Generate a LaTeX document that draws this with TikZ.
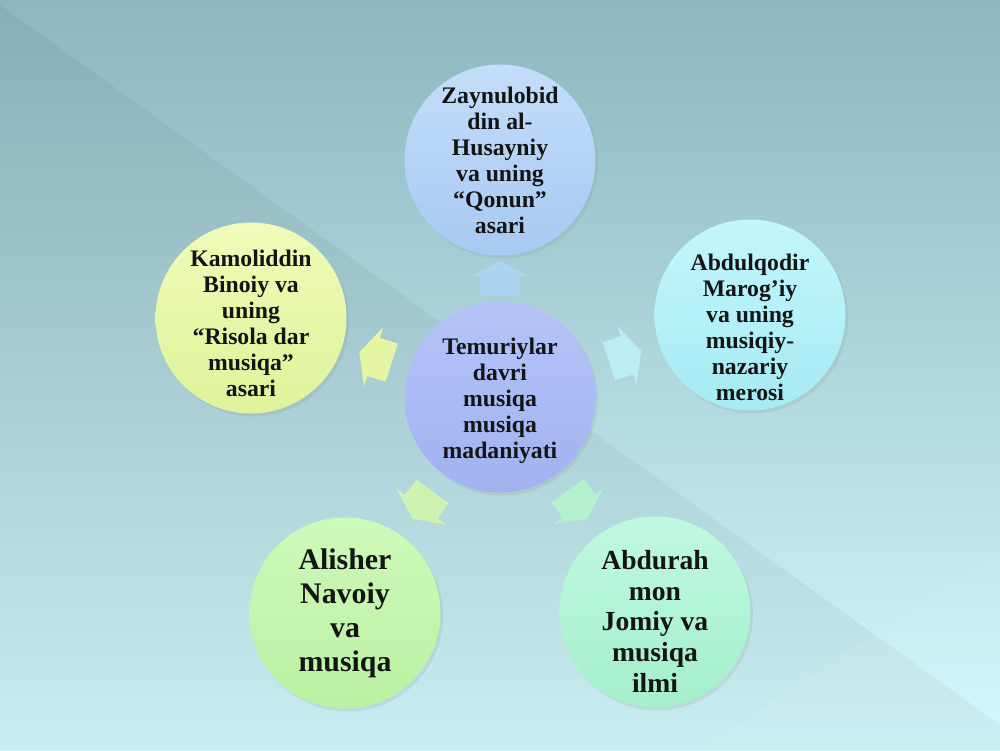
\documentclass[tikz,border=0pt]{standalone}
\usepackage{fontspec}
\setmainfont{Liberation Serif}
\usetikzlibrary{positioning,shadows,calc}

\definecolor{bgtop}{RGB}{141,182,191}
\definecolor{bgmid}{RGB}{166,218,229}
\definecolor{bgbot}{RGB}{212,248,252}

\begin{document}
\begin{tikzpicture}[auto ,node distance =4cm and 5cm ,on grid ,
    topic/.style ={ circle , minimum size =3.82cm , inner sep=-0.3cm ,
    align=center , text=black!92 ,
    font=\bfseries\fontsize{13.5}{14.8}\selectfont ,
    drop shadow={shadow xshift=0.05cm, shadow yshift=-0.06cm, opacity=0.14}},
    outarrow/.pic={
      \fill[pic actions] (-0.34,-0.4) -- (0.04,-0.4) -- (0.04,-0.62)
        -- (0.34,0) -- (0.04,0.62) -- (0.04,0.4) -- (-0.34,0.4) -- cycle;}
    ]

    \useasboundingbox (0,0) rectangle (20,15);
    % background
    \shade[top color=bgtop, middle color=bgmid, bottom color=bgbot] (0,0) rectangle (20,15);
    \fill[black, opacity=0.045] (0,14.9) -- (20,0.5) -- (20,0) -- (0,0) -- cycle;
    \fill[white, opacity=0.07] (14,0) -- (20,4) -- (20,0) -- cycle;

    \node[topic, text height=72.5pt, top color={rgb,255:red,181;green,195;blue,248}, bottom color={rgb,255:red,161;green,178;blue,240}] (M) at (10,7.06)
      {Temuriylar\\davri\\musiqa\\musiqa\\madaniyati};
    \node[topic, top color={rgb,255:red,196;green,221;blue,250}, bottom color={rgb,255:red,168;green,201;blue,243}] (Z) [above = 4.74cm of M]
      {Zaynulobid\\din al-\\Husayniy\\va uning\\“Qonun”\\asari};
    \node[topic, text height=90pt, top color={rgb,255:red,240;green,251;blue,184}, bottom color={rgb,255:red,222;green,243;blue,154}] (K) [above left = 1.58cm and 4.98cm of M]
      {Kamoliddin\\Binoiy va\\uning\\“Risola dar\\musiqa”\\asari};
    \node[topic, text height=98pt, top color={rgb,255:red,194;green,247;blue,252}, bottom color={rgb,255:red,166;green,234;blue,243}] (A) [above right = 1.64cm and 5cm of M]
      {Abdulqodir\\Marog’iy\\va uning\\musiqiy-\\nazariy\\merosi};
    \node[topic, font=\bfseries\fontsize{17}{19.4}\selectfont, top color={rgb,255:red,207;green,249;blue,186}, bottom color={rgb,255:red,186;green,241;blue,162}] (N) [below left = 4.32cm and 3.1cm of M]
      {Alisher\\Navoiy\\va\\musiqa};
    \node[topic, text height=92pt, font=\bfseries\fontsize{15.7}{17.6}\selectfont, top color={rgb,255:red,191;green,249;blue,225}, bottom color={rgb,255:red,164;green,239;blue,203}] (J) [below right = 4.3cm and 3.1cm of M]
      {Abdurah\\mon\\Jomiy va\\musiqa\\ilmi};

    % arrows out of the middle
    \pic[fill={rgb,255:red,172;green,212;blue,238}, rotate=90] at ($(M)!0.5!(Z)$) {outarrow};
    \pic[fill={rgb,255:red,230;green,245;blue,162}, rotate=162] at ($(M)!0.5!(K)$) {outarrow};
    \pic[fill={rgb,255:red,188;green,236;blue,244}, rotate=18] at ($(M)!0.5!(A)$) {outarrow};
    \pic[fill={rgb,255:red,206;green,243;blue,176}, rotate=234] at ($(M)!0.5!(N)$) {outarrow};
    \pic[fill={rgb,255:red,180;green,242;blue,207}, rotate=306] at ($(M)!0.5!(J)$) {outarrow};
\end{tikzpicture}
\end{document}
